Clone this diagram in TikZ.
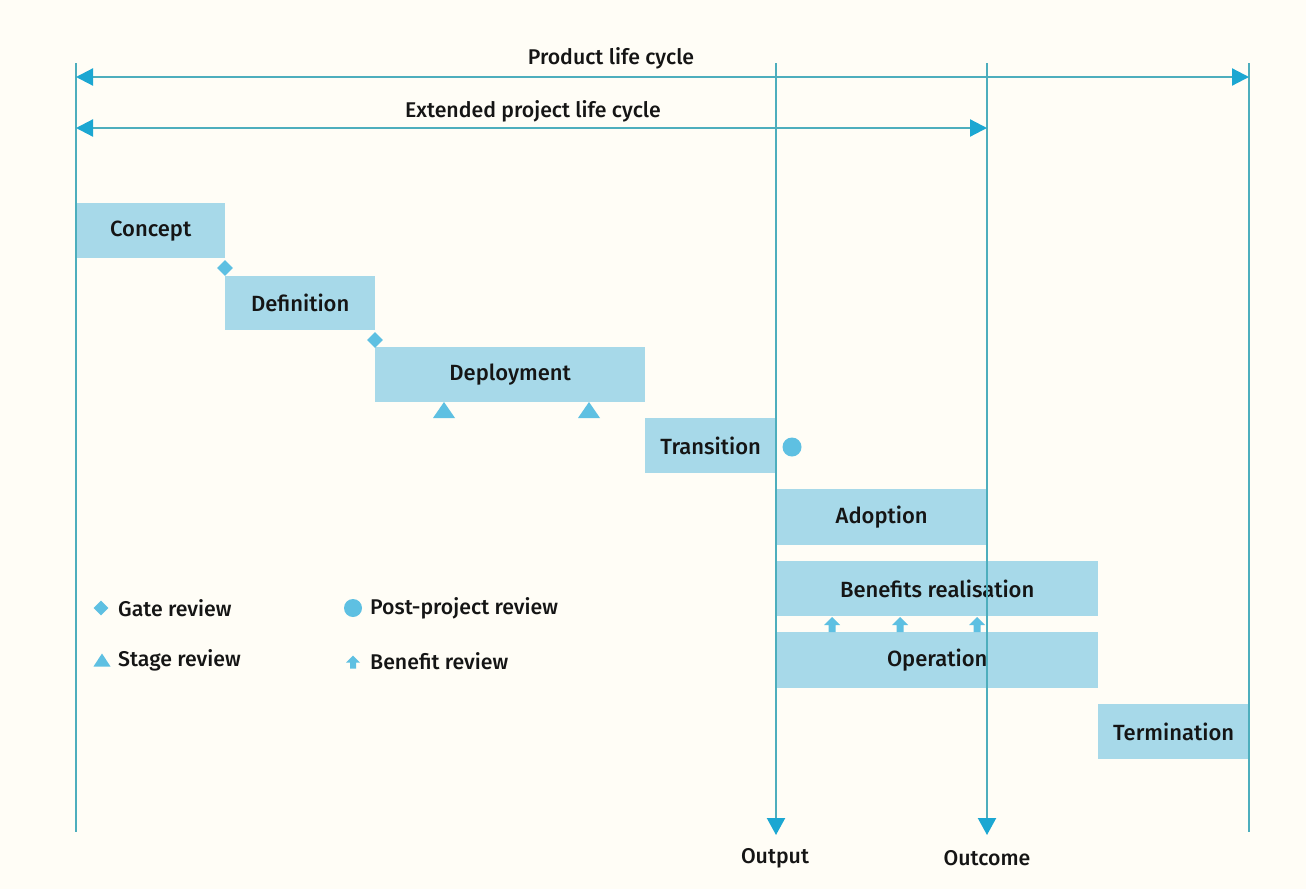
\documentclass[tikz,border=0pt]{standalone}
\usepackage{fontspec}
\setmainfont{Fira Sans Medium}
\usetikzlibrary{arrows.meta,shapes.geometric}

\definecolor{paper}{HTML}{FFFDF6}
\definecolor{phase}{HTML}{A7D9E9}
\definecolor{marker}{HTML}{5EC0E2}
\definecolor{rule}{HTML}{4DAEBD}
\definecolor{tipblue}{HTML}{1CA7D2}
\definecolor{ink}{HTML}{151515}

\tikzset{
  label/.style={font=\fontsize{21.3}{25}\selectfont, text=ink, inner sep=0pt},
  phasebox/.style={label, font=\fontsize{22}{26}\selectfont, fill=phase, draw=none, anchor=north west, align=center},
  rulel/.style={draw=rule, line width=2.2pt},
  span/.style={rulel, {Triangle[length=17pt,width=17pt,color=tipblue]}-{Triangle[length=17pt,width=17pt,color=tipblue]}},
  drop/.style={rulel, -{Triangle[length=17pt,width=18pt,color=tipblue]}},
  gatemark/.style={diamond, fill=marker, inner sep=0pt, minimum size=#1},
  gatemark/.default=16pt,
  postmark/.style={circle, fill=marker, inner sep=0pt, minimum size=#1},
  postmark/.default=19pt,
  stagemark/.pic={\fill[marker] (-11,8) -- (11,8) -- (0,-8) -- cycle;},
  keystagemark/.pic={\fill[marker] (-8.5,6.5) -- (8.5,6.5) -- (0,-6.5) -- cycle;},
  benefitmark/.pic={\fill[marker] (0,-7.5) -- (8,0.5) -- (3.5,0.5) -- (3.5,7.5)
                     -- (-3.5,7.5) -- (-3.5,0.5) -- (-8,0.5) -- cycle;},
  keybenefitmark/.pic={\fill[marker] (0,-6.5) -- (7,0.5) -- (3,0.5) -- (3,6.5)
                     -- (-3,6.5) -- (-3,0.5) -- (-7,0.5) -- cycle;},
}

\begin{document}
\begin{tikzpicture}[x=1pt,y=-1pt]
  % page
  \fill[paper] (0,0) rectangle (1306,889);

  % phase bars
  \node[phasebox, minimum width=149pt, minimum height=55pt] (concept)     at (76,203)   {Concept};
  \node[phasebox, minimum width=150pt, minimum height=54pt] (definition)  at (225,276)  {Definition};
  \node[phasebox, minimum width=270pt, minimum height=55pt] (deployment)  at (375,347)  {Deployment};
  \node[phasebox, minimum width=131pt, minimum height=55pt] (transition)  at (645,418)  {Transition};
  \node[phasebox, minimum width=211pt, minimum height=56pt] (adoption)    at (776,489)  {Adoption};
  \node[phasebox, minimum width=322pt, minimum height=55pt] (benefits)    at (776,561)  {Benefits realisation};
  \node[phasebox, minimum width=322pt, minimum height=56pt] (operation)   at (776,632)  {Operation};
  \node[phasebox, minimum width=151pt, minimum height=55pt] (termination) at (1098,704) {Termination};

  % reviews along the bars
  \node[gatemark] (gate1) at (225,268) {};
  \node[gatemark] (gate2) at (375,340) {};
  \pic at (444,410) {stagemark};
  \pic at (589,410) {stagemark};
  \node[postmark] (post) at (792,447) {};
  \pic at (832,624.5) {benefitmark};
  \pic at (900,624.5) {benefitmark};
  \pic at (977,624.5) {benefitmark};

  % milestone verticals
  \coordinate (startTop) at (76,63);    \coordinate (startBot) at (76,832);
  \coordinate (endTop)   at (1249,63);  \coordinate (endBot)   at (1249,832);
  \coordinate (outTop)   at (776,63);   \coordinate (outBot)   at (776,835);
  \coordinate (ocTop)    at (987,63);   \coordinate (ocBot)    at (987,835);
  \draw[rulel] (startTop) -- (startBot);
  \draw[rulel] (endTop) -- (endBot);
  \draw[drop] (outTop) -- (outBot);
  \draw[drop] (ocTop) -- (ocBot);

  % life-cycle spans
  \coordinate (plcL) at (76,77);  \coordinate (plcR) at (1249,77);
  \coordinate (eplL) at (76,128); \coordinate (eplR) at (987,128);
  \draw[span] (plcL) -- (plcR);
  \draw[span] (eplL) -- (eplR);
  \node[label] (plc) at (611,58)  {Product life cycle};
  \node[label] (epl) at (533,111) {Extended project life cycle};

  \node[label] (output)  at (775,858) {Output};
  \node[label] (outcome) at (987,858) {Outcome};

  % key
  \node[gatemark=15pt] (kgate) at (101,608) {};
  \node[label, anchor=west] at (118,608) {Gate review};
  \pic at (102,660) {keystagemark};
  \node[label, anchor=west] at (118,660) {Stage review};
  \node[postmark=18pt] (kpost) at (353,608) {};
  \node[label, anchor=west] at (370,608) {Post-project review};
  \pic at (353,662) {keybenefitmark};
  \node[label, anchor=west] at (370,661) {Benefit review};
\end{tikzpicture}
\end{document}
